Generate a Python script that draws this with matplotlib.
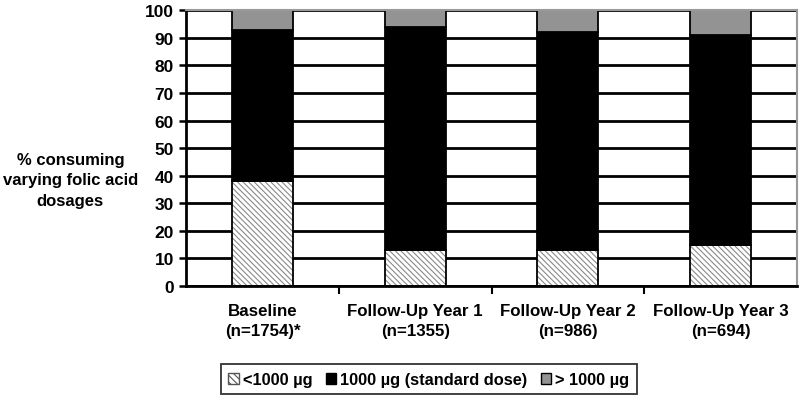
import matplotlib.pyplot as plt
import numpy as np
from matplotlib.patches import Patch

plt.rcParams['font.family'] = ['Liberation Sans', 'DejaVu Sans']
plt.rcParams['font.weight'] = 'bold'
plt.rcParams['hatch.linewidth'] = 0.8

categories = ["Baseline\n(n=1754)*", "Follow-Up Year 1\n(n=1355)",
              "Follow-Up Year 2\n(n=986)", "Follow-Up Year 3\n(n=694)"]
low_dose = [38, 13, 13, 15]
standard_dose = [55, 81, 79, 76]
high_dose = [7, 6, 8, 9]
series_labels = ["<1000 µg", "1000 µg (standard dose)", "> 1000 µg"]

x = np.arange(len(categories))
w = 0.4

fig = plt.figure(figsize=(8, 4.02), dpi=100)
ax = fig.add_axes([0.233, 0.286, 0.763, 0.686])

ax.set_axisbelow(True)
ax.yaxis.grid(True, color='black', linewidth=2)

# hatched bottom segment: hatch in gray, then black outline on top
ax.bar(x, low_dose, w, color='white', edgecolor='#8a8a8a', hatch='\\\\\\\\\\\\', linewidth=0)
ax.bar(x, low_dose, w, fill=False, edgecolor='black', linewidth=1.3)
bottom2 = np.array(low_dose)
ax.bar(x, standard_dose, w, bottom=bottom2, color='black', edgecolor='black', linewidth=1.3)
bottom3 = bottom2 + np.array(standard_dose)
ax.bar(x, high_dose, w, bottom=bottom3, color='#939393', edgecolor='black', linewidth=1.3)

ax.set_xlim(-0.5, len(categories) - 0.5)
ax.set_ylim(0, 100)
ax.set_yticks(range(0, 101, 10))
ax.tick_params(axis='y', labelsize=12.5, width=1.8, length=5, direction='out', pad=4)
ax.set_xticks(x)
ax.set_xticklabels(categories, fontsize=12.2, linespacing=1.45)
ax.tick_params(axis='x', length=0, pad=12)
ax.set_xticks(np.arange(0.5, len(categories) - 1, 1), minor=True)
ax.tick_params(axis='x', which='minor', length=6, width=1.5, direction='out')

ax.spines['left'].set_linewidth(2)
ax.spines['bottom'].set_linewidth(2)
ax.spines['top'].set_color('#9a9a9a')
ax.spines['right'].set_color('#9a9a9a')
ax.spines['top'].set_linewidth(1.5)
ax.spines['right'].set_linewidth(1.5)

fig.text(0.088, 0.55, "% consuming\nvarying folic acid\ndosages", ha='center', va='center',
         fontsize=12, linespacing=1.45)

handles = [Patch(facecolor='white', edgecolor='#555555', hatch='\\\\\\\\\\'),
           Patch(facecolor='black', edgecolor='black'),
           Patch(facecolor='#939393', edgecolor='black')]
leg = fig.legend(handles, series_labels, loc='center', bbox_to_anchor=(0.536, 0.054), ncol=3,
                 frameon=True, fancybox=False, edgecolor='black', fontsize=11.8,
                 handlelength=0.65, handleheight=0.65, handletextpad=0.25, columnspacing=0.8,
                 borderpad=0.45, borderaxespad=0)
leg.get_frame().set_linewidth(1.3)

fig.savefig("out.png", dpi=100)
